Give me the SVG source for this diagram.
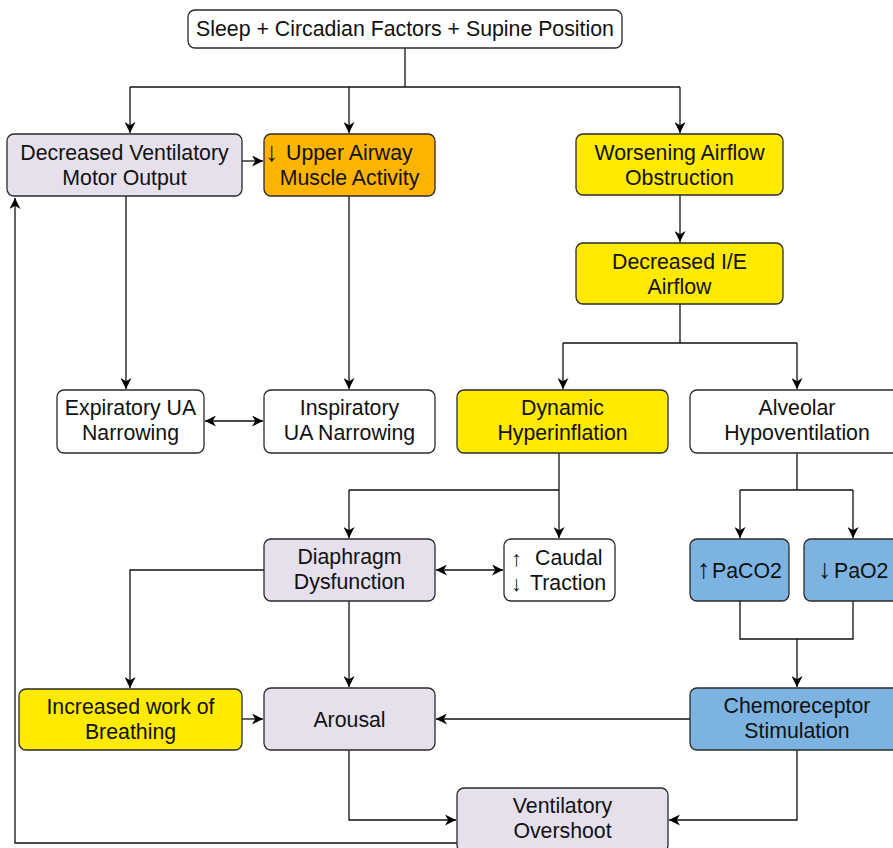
<svg xmlns="http://www.w3.org/2000/svg" width="893" height="848" viewBox="0 0 893 848">
<defs>
<marker id="ah" viewBox="0 0 10 10" refX="10" refY="5" markerWidth="11" markerHeight="11" markerUnits="userSpaceOnUse" orient="auto-start-reverse">
<path d="M0,0 L10,5 L0,10 L3,5 Z" fill="#000"/>
</marker>
<style>
.b{stroke:#2a2a2a;stroke-width:1.3}
.w{fill:#fff}
.l{fill:#E6DFEC}
.o{fill:#FFB400}
.y{fill:#FFEA00}
.bl{fill:#7DB3E1}
text{font-family:"Liberation Sans",Arial,sans-serif;font-size:21.3px;fill:#111;text-anchor:middle}
text.s{text-anchor:start}
.ar{font-size:27px}
.c path{fill:none;stroke:#111;stroke-width:1.3}
</style>
</defs>
<rect width="893" height="848" fill="#fff"/>
<g class="c">
<path d="M405,48 V87"/>
<path d="M130,87 H680"/>
<path d="M130,87 V133" marker-end="url(#ah)"/>
<path d="M349,87 V133" marker-end="url(#ah)"/>
<path d="M680,87 V133" marker-end="url(#ah)"/>
<path d="M242,161 H263" marker-end="url(#ah)"/>
<path d="M680,195 V242" marker-end="url(#ah)"/>
<path d="M680,304 V343 M563,343 H797"/>
<path d="M563,343 V389" marker-end="url(#ah)"/>
<path d="M797,343 V389" marker-end="url(#ah)"/>
<path d="M126,196 V389" marker-end="url(#ah)"/>
<path d="M349,196 V389" marker-end="url(#ah)"/>
<path d="M205,421 H263" marker-start="url(#ah)" marker-end="url(#ah)"/>
<path d="M559,453 V490 M349,490 H559"/>
<path d="M349,490 V538" marker-end="url(#ah)"/>
<path d="M559,490 V538" marker-end="url(#ah)"/>
<path d="M436,570 H503" marker-start="url(#ah)" marker-end="url(#ah)"/>
<path d="M797,453 V490 M740,490 H853"/>
<path d="M740,490 V538" marker-end="url(#ah)"/>
<path d="M853,490 V538" marker-end="url(#ah)"/>
<path d="M264,570 H130 V688" marker-end="url(#ah)"/>
<path d="M349,601 V687" marker-end="url(#ah)"/>
<path d="M242,719 H263" marker-end="url(#ah)"/>
<path d="M740,601 V639 H853 V601 M797,639 V687" marker-end="url(#ah)"/>
<path d="M690,719 H436" marker-end="url(#ah)"/>
<path d="M797,750 V820 H669" marker-end="url(#ah)"/>
<path d="M349,750 V820 H456" marker-end="url(#ah)"/>
<path d="M457,843 H15 V198" marker-end="url(#ah)"/>
</g>
<g id="n-top"><rect class="b w" x="188" y="10" width="434" height="38" rx="7"/><text x="405" y="36">Sleep + Circadian Factors + Supine Position</text></g>
<g id="n-dvmo"><rect class="b l" x="7" y="134" width="235" height="62" rx="7"/><text x="124.5" y="159.5">Decreased Ventilatory</text><text x="124.5" y="184.5">Motor Output</text></g>
<g id="n-uama"><rect class="b o" x="264" y="134" width="171" height="62" rx="7"/><text class="s" x="265" y="160.5"><tspan class="ar">↓</tspan><tspan x="286" y="159.5">Upper Airway</tspan></text><text x="349.5" y="184.5">Muscle Activity</text></g>
<g id="n-wao"><rect class="b y" x="576" y="134" width="207" height="61" rx="7"/><text x="679.5" y="159.5">Worsening Airflow</text><text x="679.5" y="184.5">Obstruction</text></g>
<g id="n-die"><rect class="b y" x="576" y="243" width="207" height="61" rx="7"/><text x="679.5" y="268.5">Decreased I/E</text><text x="679.5" y="293.5">Airflow</text></g>
<g id="n-eua"><rect class="b w" x="57" y="390" width="147" height="63" rx="7"/><text x="130.5" y="415">Expiratory UA</text><text x="130.5" y="440">Narrowing</text></g>
<g id="n-iua"><rect class="b w" x="264" y="390" width="171" height="63" rx="7"/><text x="349.5" y="415">Inspiratory</text><text x="349.5" y="440">UA Narrowing</text></g>
<g id="n-dh"><rect class="b y" x="457" y="390" width="211" height="63" rx="7"/><text x="562.5" y="415">Dynamic</text><text x="562.5" y="440">Hyperinflation</text></g>
<g id="n-ah"><rect class="b w" x="690" y="390" width="214" height="63" rx="7"/><text x="797" y="415">Alveolar</text><text x="797" y="440">Hypoventilation</text></g>
<g id="n-dd"><rect class="b l" x="264" y="539" width="171" height="62" rx="7"/><text x="349.5" y="564">Diaphragm</text><text x="349.5" y="589">Dysfunction</text></g>
<g id="n-ct"><rect class="b w" x="504" y="539" width="111" height="62" rx="7"/><text class="s" x="511" y="566">↑<tspan x="535" y="565">Caudal</tspan></text><text class="s" x="511" y="591">↓<tspan x="530" y="590">Traction</tspan></text></g>
<g id="n-paco2"><rect class="b bl" x="690" y="539" width="99" height="62" rx="7"/><text class="s" x="697" y="578"><tspan class="ar">↑</tspan><tspan x="712" y="577.5">PaCO2</tspan></text></g>
<g id="n-pao2"><rect class="b bl" x="804" y="539" width="100" height="62" rx="7"/><text class="s" x="818" y="578"><tspan class="ar">↓</tspan><tspan x="834" y="577.5">PaO2</tspan></text></g>
<g id="n-iwb"><rect class="b y" x="19" y="689" width="223" height="61" rx="7"/><text x="130.5" y="714">Increased work of</text><text x="130.5" y="739">Breathing</text></g>
<g id="n-ar"><rect class="b l" x="264" y="688" width="171" height="62" rx="7"/><text x="349.5" y="726.5">Arousal</text></g>
<g id="n-cs"><rect class="b bl" x="690" y="688" width="214" height="62" rx="7"/><text x="797" y="713">Chemoreceptor</text><text x="797" y="738">Stimulation</text></g>
<g id="n-vo"><rect class="b l" x="457" y="788" width="211" height="64" rx="7"/><text x="562.5" y="813">Ventilatory</text><text x="562.5" y="838">Overshoot</text></g>
</svg>
